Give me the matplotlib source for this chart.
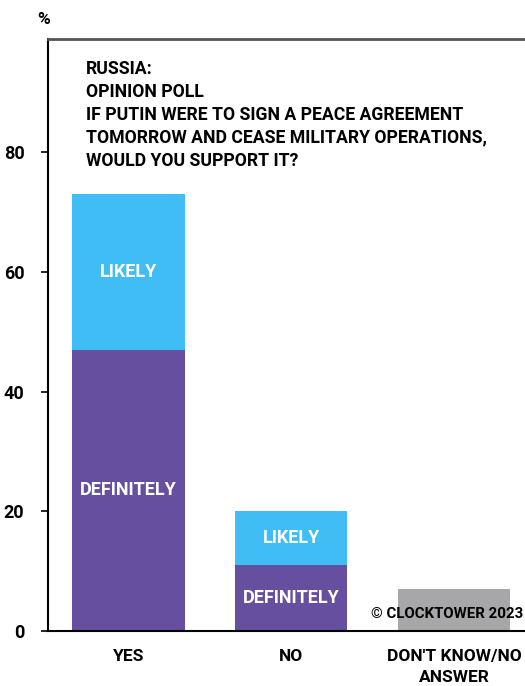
import matplotlib.pyplot as plt
import numpy as np

# Poll answers (%)
categories = ["YES", "NO", "DON'T KNOW/NO\nANSWER"]
definitely = [47, 11, 0]
likely = [26, 9, 0]
no_answer = [0, 0, 7]
segment_labels = ["DEFINITELY", "LIKELY"]

title = ("RUSSIA:\nOPINION POLL\nIF PUTIN WERE TO SIGN A PEACE AGREEMENT\n"
         "TOMORROW AND CEASE MILITARY OPERATIONS,\nWOULD YOU SUPPORT IT?")

purple = "#654f9e"
blue = "#40bdf5"
grey = "#a7a7a9"

plt.rcParams['font.family'] = ['Roboto', 'DejaVu Sans']
plt.rcParams['font.weight'] = 'bold'

W, H = 525, 686
fig = plt.figure(figsize=(W / 100, H / 100), dpi=100)
ax = fig.add_axes([48 / W, (H - 631) / H, (560 - 48) / W, (631 - 39) / H])

x = np.arange(len(categories))
width = 0.69
ax.bar(x, definitely, width, color=purple, zorder=2)
ax.bar(x, likely, width, bottom=definitely, color=blue, zorder=2)
ax.bar(x, no_answer, width, color=grey, zorder=2)

# segment labels for the stacked bars
for i in range(2):
    d, l = definitely[i], likely[i]
    ax.text(x[i], d / 2, segment_labels[0], color='white', ha='center', va='center',
            fontsize=13, fontweight='bold', zorder=3)
    ax.text(x[i], d + l / 2, segment_labels[1], color='white', ha='center', va='center',
            fontsize=13, fontweight='bold', zorder=3)

ax.set_xlim(-0.494, 2.65)
ax.set_ylim(0, 98.9)
ax.set_yticks([0, 20, 40, 60, 80])
ax.set_xticks(x)
ax.set_xticklabels(categories, fontsize=12.5, fontweight='bold', linespacing=1.5)
ax.tick_params(axis='x', length=0, pad=13)
ax.tick_params(axis='y', length=5, width=1.2, pad=12, labelsize=13)
for lbl in ax.get_yticklabels():
    lbl.set_fontweight('bold')

ax.spines['right'].set_visible(False)
ax.spines['top'].set_color('#555555')
ax.spines['top'].set_linewidth(2)
ax.spines['left'].set_linewidth(1.5)
ax.spines['bottom'].set_linewidth(1.5)

fig.text(44 / W, 1 - 20 / H, "%", ha='center', va='center', fontsize=12.5, fontweight='bold')
fig.text(86 / W, 1 - 60 / H, title, ha='left', va='top', fontsize=12.7,
         fontweight='bold', linespacing=1.35)
fig.text(371 / W, 1 - 614 / H, "© CLOCKTOWER 2023", ha='left', va='center',
         fontsize=10.8, fontweight='bold', zorder=5)

fig.savefig("out.png", dpi=100)
